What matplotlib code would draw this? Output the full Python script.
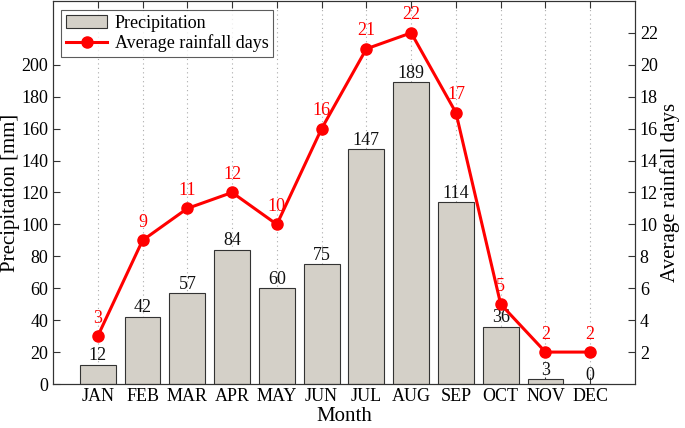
import matplotlib
matplotlib.use("Agg")
import matplotlib.pyplot as plt
import numpy as np

months = ["JAN", "FEB", "MAR", "APR", "MAY", "JUN", "JUL", "AUG", "SEP", "OCT", "NOV", "DEC"]
precip = [12, 42, 57, 84, 60, 75, 147, 189, 114, 36, 3, 0]
rain_days = [3, 9, 11, 12, 10, 16, 21, 22, 17, 5, 2, 2]
left_ticks = [0, 20, 40, 60, 80, 100, 120, 140, 160, 180, 200]
right_ticks = [2, 4, 6, 8, 10, 12, 14, 16, 18, 20, 22]

plt.rcParams['font.family'] = ['Liberation Serif', 'DejaVu Serif']

fig = plt.figure(figsize=(6.85, 4.28), dpi=100)
ax = fig.add_axes([0.0774, 0.1028, 0.8496, 0.895])
x = np.arange(1, len(months) + 1)

ax.bar(x, precip, width=0.8, color="#d4d0c8", edgecolor="#333333", linewidth=0.8,
       label="Precipitation", zorder=2)
for xi, v in zip(x, precip):
    ax.text(xi, v + 0.3, str(v), ha="center", va="bottom", fontsize=13, color="#111111", zorder=5)
ax.set_xlim(0, 13)
ax.set_ylim(0, 240)
ax.set_yticks(left_ticks)
ax.set_xticks(x)
ax.set_xticklabels(months)
ax.tick_params(axis="both", direction="in", labelsize=13, length=5, color="#333333")
ax.tick_params(axis="x", top=True, pad=3)
ax.xaxis.grid(True, linestyle=(0, (1, 3)), color="#aaaaaa", linewidth=0.8, zorder=0)
ax.set_axisbelow(True)
ax.set_xlabel("Month", fontsize=15, labelpad=1)
ax.set_ylabel("Precipitation [mm]", fontsize=15)
ax.yaxis.set_label_coords(-0.057, 0.5)
for s in ax.spines.values():
    s.set_color("#333333")

ax2 = ax.twinx()
ax2.plot(x, rain_days, color="#ff0000", linewidth=2.2, marker="o", markersize=8,
         label="Average rainfall days", zorder=4)
for xi, v in zip(x, rain_days):
    ax2.text(xi, v + 0.6, str(v), ha="center", va="bottom", fontsize=13, color="#ff0000")
ax2.set_ylim(0, 24)
ax2.set_yticks(right_ticks)
ax2.tick_params(axis="y", direction="in", labelsize=13, length=5, color="#333333")
ax2.set_ylabel("Average rainfall days", fontsize=15)
ax2.yaxis.set_label_coords(1.043, 0.5)
for s in ax2.spines.values():
    s.set_color("#333333")

h1, l1 = ax.get_legend_handles_labels()
h2, l2 = ax2.get_legend_handles_labels()
leg = ax2.legend(h1 + h2, l1 + l2, loc="upper left", fontsize=13, frameon=True,
                 fancybox=False, edgecolor="#333333", borderpad=0.25, handlelength=2.3,
                 labelspacing=0.15, handletextpad=0.4, borderaxespad=0.3,
                 bbox_to_anchor=(0.005, 0.99))
leg.get_frame().set_linewidth(0.8)

fig.savefig("out.png", dpi=100)
